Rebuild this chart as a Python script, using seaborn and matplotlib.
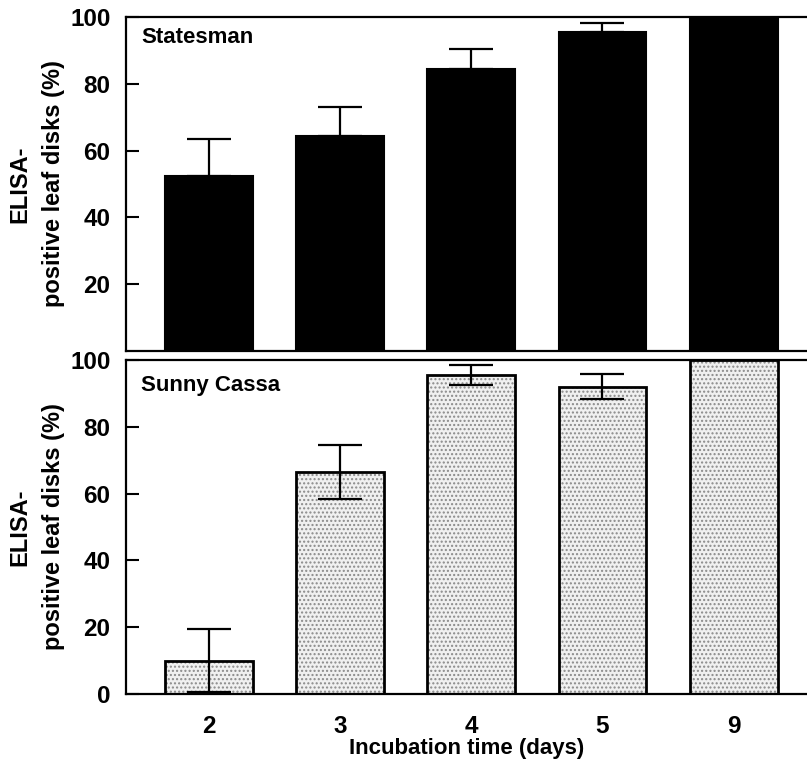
import matplotlib
matplotlib.use("Agg")
import matplotlib.pyplot as plt
import seaborn as sns
import numpy as np
import pandas as pd

days = ["2", "3", "4", "5", "9"]
statesman = [52.5, 64.5, 84.5, 95.5, 100]
statesman_err = [11.0, 8.5, 6.0, 2.8, 0]
sunny = [10.0, 66.5, 95.5, 92.0, 100]
sunny_err = [9.5, 8.0, 3.0, 3.7, 0]
yticks_top = [20, 40, 60, 80, 100]
yticks_bot = [0, 20, 40, 60, 80, 100]

sns.set_theme(style="white")
plt.rcParams['font.family'] = ['Liberation Sans', 'DejaVu Sans']
plt.rcParams['font.weight'] = 'bold'
plt.rcParams['text.color'] = 'black'
plt.rcParams['axes.labelcolor'] = 'black'
plt.rcParams['xtick.color'] = 'black'
plt.rcParams['ytick.color'] = 'black'

fig = plt.figure(figsize=(8.07, 7.59), dpi=100)
ax1 = fig.add_axes([0.156, 0.5375, 0.844, 0.4401])
ax2 = fig.add_axes([0.156, 0.0856, 0.844, 0.4401])

df1 = pd.DataFrame({"day": days, "val": statesman})
df2 = pd.DataFrame({"day": days, "val": sunny})

sns.barplot(data=df1, x="day", y="val", ax=ax1, color="black", width=0.67,
            saturation=1, edgecolor="black", linewidth=1.5, errorbar=None)
x = np.arange(len(days))
ax1.errorbar(x[:4], statesman[:4], yerr=[[0]*4, statesman_err[:4]], fmt="none",
             ecolor="black", elinewidth=1.6, capsize=16, capthick=1.6)

sns.barplot(data=df2, x="day", y="val", ax=ax2, color="#f0f0f0", width=0.67,
            saturation=1, edgecolor="#8a8a8a", linewidth=0, hatch="....", errorbar=None)
sns.barplot(data=df2, x="day", y="val", ax=ax2, fill=False, width=0.67,
            edgecolor="black", linewidth=2.0, errorbar=None)
ax2.errorbar(x[:4], sunny[:4], yerr=sunny_err[:4], fmt="none",
             ecolor="black", elinewidth=1.6, capsize=16, capthick=1.6)

for ax, ticks in ((ax1, yticks_top), (ax2, yticks_bot)):
    ax.set_xlim(-0.635, 4.56)
    ax.set_ylim(0, 100)
    ax.set_yticks(ticks)
    ax.set_yticklabels([str(t) for t in ticks], fontsize=17.5, fontweight="bold")
    ax.tick_params(axis="y", direction="in", length=9, width=1.5, left=True, pad=11)
    ax.tick_params(axis="x", direction="in", length=8, width=1.5, bottom=True)
    for s in ("left", "top", "bottom"):
        ax.spines[s].set_visible(True)
        ax.spines[s].set_color("black")
        ax.spines[s].set_linewidth(1.6)
    ax.spines["right"].set_visible(False)
    ax.set_ylabel("ELISA-\npositive leaf disks (%)", fontsize=17, fontweight="bold",
                  linespacing=1.55, labelpad=4)
    ax.set_facecolor("white")

ax1.set_xticklabels([])
ax1.set_xlabel("")
ax2.set_xticklabels(days, fontsize=17.5, fontweight="bold")
ax2.tick_params(axis="x", pad=15)
ax2.set_xlabel("Incubation time (days)", fontsize=16, fontweight="bold", labelpad=0)

ax1.text(0.022, 0.94, "Statesman", transform=ax1.transAxes, fontsize=16,
         fontweight="bold", va="center", ha="left")
ax2.text(0.022, 0.925, "Sunny Cassa", transform=ax2.transAxes, fontsize=16,
         fontweight="bold", va="center", ha="left")

fig.savefig("out.png", dpi=100, facecolor="white")
